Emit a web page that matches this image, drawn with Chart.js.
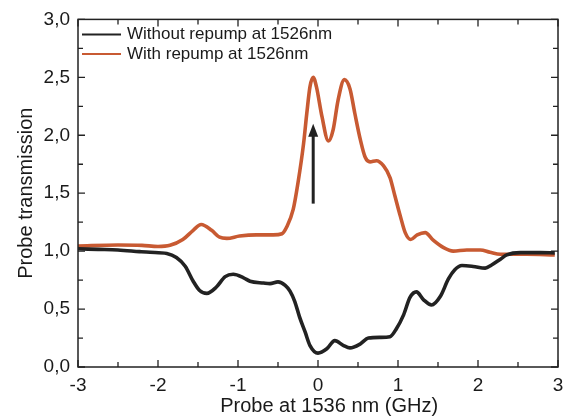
<!DOCTYPE html>
<html>
<head>
<meta charset="utf-8">
<script src="https://cdn.jsdelivr.net/npm/chart.js@4.4.1/dist/chart.umd.min.js"></script>
<style>
  html, body { margin: 0; padding: 0; background: #fff; }
  #wrap { width: 573px; height: 419px; }
</style>
</head>
<body>
<div id="wrap"><canvas id="probeChart" width="573" height="419"></canvas></div>
<script>
// --- data ---
const xTicks = [-3, -2, -1, 0, 1, 2, 3];
const xMinor = [-2.5, -1.5, -0.5, 0.5, 1.5, 2.5];
const yTicks = [0, 0.5, 1, 1.5, 2, 2.5, 3];
const yMinor = [0.25, 0.75, 1.25, 1.75, 2.25, 2.75];

const seriesLabels = ["Without repump at 1526nm", "With repump at 1526nm"];

const xWithout = [-3, -2.75, -2.5, -2.23, -2.1, -1.89, -1.77, -1.66, -1.56, -1.48, -1.39, -1.27, -1.16, -1.06,
  -0.93, -0.85, -0.68, -0.6, -0.5, -0.41, -0.35, -0.29, -0.23, -0.16, -0.1, 0, 0.11, 0.21, 0.32, 0.4, 0.53,
  0.63, 0.78, 0.9, 0.98, 1.07, 1.15, 1.23, 1.32, 1.42, 1.53, 1.63, 1.71, 1.8, 1.94, 2.09, 2.17, 2.28, 2.36,
  2.53, 2.78, 2.96];
const yWithout = [1.02, 1.015, 1.01, 0.996, 0.99, 0.98, 0.945, 0.87, 0.74, 0.66, 0.635, 0.69, 0.78, 0.8,
  0.77, 0.74, 0.725, 0.72, 0.735, 0.705, 0.655, 0.565, 0.43, 0.3, 0.185, 0.12, 0.157, 0.228, 0.185, 0.165, 0.2,
  0.25, 0.256, 0.262, 0.33, 0.45, 0.6, 0.648, 0.58, 0.535, 0.61, 0.76, 0.84, 0.876, 0.868, 0.853, 0.88, 0.93, 0.967,
  0.987, 0.987, 0.985];

const xWith = [-3, -2.5, -2.2, -2, -1.85, -1.69, -1.56, -1.46, -1.33, -1.23, -1.14, -0.98, -0.77, -0.56,
  -0.45, -0.39, -0.31, -0.25, -0.18, -0.14, -0.1, -0.06, -0.02, 0.05, 0.13, 0.19, 0.25, 0.33, 0.4, 0.46,
  0.53, 0.59, 0.65, 0.73, 0.82, 0.9, 0.96, 1.03, 1.09, 1.16, 1.24, 1.34, 1.44, 1.57, 1.69, 1.86, 2.03,
  2.15, 2.28, 2.61, 2.96];
const yWith = [1.044, 1.053, 1.05, 1.04, 1.05, 1.1, 1.18, 1.23, 1.18, 1.12, 1.11, 1.13, 1.14, 1.14,
  1.15, 1.21, 1.36, 1.59, 1.93, 2.19, 2.42, 2.5, 2.42, 2.16, 1.95, 2.05, 2.3, 2.48, 2.4, 2.19,
  1.96, 1.81, 1.77, 1.78, 1.735, 1.635, 1.48, 1.3, 1.16, 1.1, 1.14, 1.16, 1.095, 1.03, 1.0, 1.01, 1.01,
  0.99, 0.973, 0.973, 0.967];

// arrow marking the jump at the first peak (data units)
const arrowX = -0.06;
const arrowFrom = 1.41;
const arrowTo = 2.1;

const BLACK = "#222222";
const ORANGE = "#c85a32";
const FONT = "'Liberation Sans', Arial, Helvetica, sans-serif";

function toPoints(xs, ys) {
  return xs.map((x, i) => ({ x: x, y: ys[i] }));
}

// Box frame + inward ticks on all four sides
const framePlugin = {
  id: "frame",
  afterDatasetsDraw(chart) {
    const { ctx, chartArea: a, scales } = chart;
    const xs = scales.x, ys = scales.y;
    ctx.save();
    ctx.strokeStyle = BLACK;
    ctx.lineWidth = 1.5;
    ctx.strokeRect(a.left, a.top, a.right - a.left, a.bottom - a.top);
    ctx.lineWidth = 1.3;
    const drawX = (vals, len) => vals.forEach(v => {
      const px = xs.getPixelForValue(v);
      ctx.beginPath();
      ctx.moveTo(px, a.bottom); ctx.lineTo(px, a.bottom - len);
      ctx.moveTo(px, a.top); ctx.lineTo(px, a.top + len);
      ctx.stroke();
    });
    const drawY = (vals, len) => vals.forEach(v => {
      const py = ys.getPixelForValue(v);
      ctx.beginPath();
      ctx.moveTo(a.left, py); ctx.lineTo(a.left + len, py);
      ctx.moveTo(a.right, py); ctx.lineTo(a.right - len, py);
      ctx.stroke();
    });
    drawX(xTicks, 7); drawX(xMinor, 5);
    drawY(yTicks, 7); drawY(yMinor, 5);
    ctx.restore();
  }
};

// Vertical arrow
const arrowPlugin = {
  id: "arrow",
  afterDatasetsDraw(chart) {
    const { ctx, scales } = chart;
    const px = scales.x.getPixelForValue(arrowX);
    const y0 = scales.y.getPixelForValue(arrowFrom);
    const y1 = scales.y.getPixelForValue(arrowTo);
    ctx.save();
    ctx.strokeStyle = BLACK;
    ctx.fillStyle = BLACK;
    ctx.lineWidth = 3;
    ctx.beginPath();
    ctx.moveTo(px, y0); ctx.lineTo(px, y1 + 10);
    ctx.stroke();
    ctx.beginPath();
    ctx.moveTo(px, y1);
    ctx.lineTo(px - 5, y1 + 13);
    ctx.lineTo(px + 5, y1 + 13);
    ctx.closePath();
    ctx.fill();
    ctx.restore();
  }
};

// Legend inside the top-left corner
const legendPlugin = {
  id: "insideLegend",
  afterDraw(chart) {
    const { ctx, chartArea: a } = chart;
    ctx.save();
    ctx.font = "17px " + FONT;
    ctx.textBaseline = "alphabetic";
    ctx.textAlign = "left";
    chart.data.datasets.forEach((ds, i) => {
      const y = a.top + 15 + i * 19.5;
      ctx.strokeStyle = ds.borderColor;
      ctx.lineWidth = 2;
      ctx.beginPath();
      ctx.moveTo(a.left + 4, y);
      ctx.lineTo(a.left + 43, y);
      ctx.stroke();
      ctx.fillStyle = "#1a1a1a";
      ctx.fillText(ds.label, a.left + 49, y + 5);
    });
    ctx.restore();
  }
};

const ctx = document.getElementById("probeChart").getContext("2d");

new Chart(ctx, {
  type: "line",
  data: {
    datasets: [
      {
        label: seriesLabels[0],
        data: toPoints(xWithout, yWithout),
        borderColor: BLACK,
        borderWidth: 3.6,
        pointRadius: 0,
        cubicInterpolationMode: "monotone"
      },
      {
        label: seriesLabels[1],
        data: toPoints(xWith, yWith),
        borderColor: ORANGE,
        borderWidth: 3.6,
        pointRadius: 0,
        cubicInterpolationMode: "monotone"
      }
    ]
  },
  options: {
    responsive: false,
    animation: false,
    layout: { padding: { left: 0, right: 15, top: 15, bottom: 0 } },
    plugins: {
      legend: { display: false },
      tooltip: { enabled: false }
    },
    scales: {
      x: {
        type: "linear",
        min: -3,
        max: 3,
        afterBuildTicks: s => { s.ticks = xTicks.map(v => ({ value: v })); },
        afterFit: s => { s.height = 52; },
        grid: { display: false, drawTicks: false },
        border: { display: false },
        ticks: {
          color: "#1a1a1a",
          font: { family: FONT, size: 19 },
          padding: 7,
          maxRotation: 0,
          callback: v => String(v)
        },
        title: {
          display: true,
          text: "    Probe at 1536 nm (GHz)",
          color: "#1a1a1a",
          font: { family: FONT, size: 20 },
          padding: { top: 0, bottom: 1 }
        }
      },
      y: {
        min: 0,
        max: 3,
        afterBuildTicks: s => { s.ticks = yTicks.map(v => ({ value: v })); },
        afterFit: s => { s.width = 78; },
        grid: { display: false, drawTicks: false },
        border: { display: false },
        ticks: {
          color: "#1a1a1a",
          font: { family: FONT, size: 19 },
          padding: 8,
          callback: v => v.toFixed(1).replace(".", ",")
        },
        title: {
          display: true,
          text: "Probe transmission",
          color: "#1a1a1a",
          font: { family: FONT, size: 20 },
          padding: { top: 14, bottom: 0 }
        }
      }
    }
  },
  plugins: [framePlugin, arrowPlugin, legendPlugin]
});
</script>
</body>
</html>
